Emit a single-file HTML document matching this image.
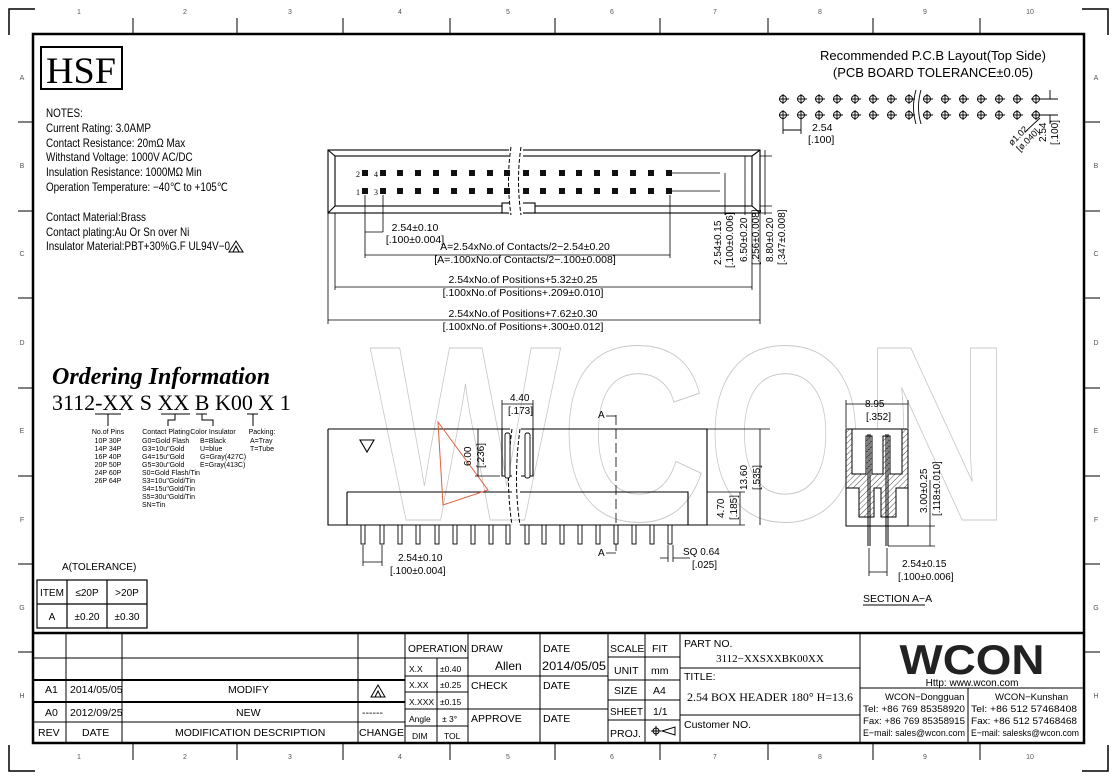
<!DOCTYPE html>
<html><head><meta charset="utf-8"><style>
html,body{margin:0;padding:0;background:#fff}
svg{display:block}
text{font-family:"Liberation Sans",sans-serif}
.s{font-family:"Liberation Serif",serif}
</style></head><body>
<svg width="1117" height="780" viewBox="0 0 1117 780" xmlns="http://www.w3.org/2000/svg">
<text x="370" y="520" font-size="250" font-weight="bold" style="fill:none;stroke:#c8c8c8;stroke-width:1;font-family:'Liberation Sans',sans-serif" textLength="640" lengthAdjust="spacingAndGlyphs">WCON</text>
<g stroke="#000" stroke-width="1.5" fill="none">
<path d="M9 35V9H35"/><path d="M1108 35V9H1082"/><path d="M9 745V771H35"/><path d="M1108 745V771H1082"/>
</g>
<rect x="33" y="34" width="1051" height="709" fill="none" stroke="#000" stroke-width="2.5"/>
<g stroke="#000" stroke-width="1">
<path d="M133 18V34M237 18V34M343 18V34M450 18V34M555 18V34M660 18V34M768 18V34M873 18V34M980 18V34"/>
<path d="M133 743V760M237 743V760M343 743V760M450 743V760M555 743V760M660 743V760M768 743V760M873 743V760M980 743V760"/>
<path d="M18 122H33M18 211H33M18 298H33M18 388H33M18 476H33M18 564H33M18 652H33"/>
<path d="M1084 122H1100M1084 211H1100M1084 298H1100M1084 388H1100M1084 476H1100M1084 564H1100M1084 652H1100"/>
</g>
<g font-size="7" class="s" fill="#555" text-anchor="middle">
<text x="79" y="14">1</text><text x="185" y="14">2</text><text x="290" y="14">3</text><text x="400" y="14">4</text><text x="508" y="14">5</text><text x="612" y="14">6</text><text x="715" y="14">7</text><text x="820" y="14">8</text><text x="925" y="14">9</text><text x="1030" y="14">10</text>
<text x="79" y="759">1</text><text x="185" y="759">2</text><text x="290" y="759">3</text><text x="400" y="759">4</text><text x="508" y="759">5</text><text x="612" y="759">6</text><text x="715" y="759">7</text><text x="820" y="759">8</text><text x="925" y="759">9</text><text x="1030" y="759">10</text>
<text x="22" y="80">A</text><text x="22" y="168">B</text><text x="22" y="256">C</text><text x="22" y="345">D</text><text x="22" y="433">E</text><text x="22" y="522">F</text><text x="22" y="610">G</text><text x="22" y="698">H</text>
<text x="1096" y="80">A</text><text x="1096" y="168">B</text><text x="1096" y="256">C</text><text x="1096" y="345">D</text><text x="1096" y="433">E</text><text x="1096" y="522">F</text><text x="1096" y="610">G</text><text x="1096" y="698">H</text>
</g>
<rect x="41" y="47" width="81" height="42" fill="none" stroke="#000" stroke-width="2"/>
<text x="81" y="83" class="s" font-size="37" text-anchor="middle" textLength="70" lengthAdjust="spacingAndGlyphs">HSF</text>
<g font-size="11.5" transform="translate(46,0) scale(0.86,1) translate(-46,0)">
<text x="46" y="117">NOTES:</text>
<text x="46" y="132">Current Rating: 3.0AMP</text>
<text x="46" y="147">Contact Resistance: 20mΩ Max</text>
<text x="46" y="161">Withstand Voltage: 1000V AC/DC</text>
<text x="46" y="176">Insulation Resistance: 1000MΩ Min</text>
<text x="46" y="191">Operation Temperature: −40℃ to +105℃</text>
<text x="46" y="221">Contact Material:Brass</text>
<text x="46" y="236">Contact plating:Au Or Sn over Ni</text>
<text x="46" y="250">Insulator Material:PBT+30%G.F UL94V−0</text>
</g>
<path d="M229 252L236 241L243 252Z M233 252L236 246L239 252" fill="none" stroke="#000"/>
<text x="933" y="60" font-size="13" text-anchor="middle">Recommended P.C.B Layout(Top Side)</text>
<text x="933" y="77" font-size="13" text-anchor="middle">(PCB BOARD TOLERANCE±0.05)</text>
<g fill="none" stroke="#000" stroke-width="0.9">
<path d="M916 90Q911 107 916 124M921 90Q916 107 921 124"/>
<path d="M1041 99H1058M1041 115H1058M1050 99V90M1050 115V124"/>
<path d="M783 118V134M801 118V134M783 130H801"/>
<path d="M1040 118L1025 132"/>
</g>
<text x="812" y="131" font-size="10.5">2.54</text>
<text x="808" y="143" font-size="10.5">[.100]</text>
<text transform="translate(1012,146) rotate(-45)" font-size="9">ø1.02</text>
<text transform="translate(1020,152) rotate(-45)" font-size="9">[ø.040]</text>
<text transform="translate(1046,142) rotate(-90)" font-size="10">2.54</text>
<text transform="translate(1058,145) rotate(-90)" font-size="10">[.100]</text>
<g fill="none" stroke="#000" stroke-width="1.1">
<rect x="328" y="150" width="432" height="63"/>
<rect x="335" y="156" width="417" height="50"/>
<path d="M335 206L328 213M752 206L760 213M335 156L328 150M752 156L760 150"/>
<rect x="502" y="203" width="33" height="10" fill="#fff"/>
</g>
<rect x="509" y="146" width="14" height="70" fill="#fff"/>
<path d="M511 147Q506 180 511 215M521 147Q516 180 521 215" fill="none" stroke="#000" stroke-dasharray="4,2"/>
<g fill="none" stroke="#000" stroke-width="0.8">
<path d="M672 173H720M672 191H720M760 156H772M760 206H772M760 213H772M725 173V215M745 156V215M765 150V215"/>
<path d="M365 195V258M383 195V232M670 195V258M335 213V290M752 213V290M328 213V324M760 213V324"/>
<path d="M365 232H383M365 255H670M335 287H752M328 320H760"/>
</g>
<g font-size="10.5" text-anchor="middle">
<text x="415" y="231">2.54±0.10</text><text x="415" y="243">[.100±0.004]</text>
<text x="525" y="250">A=2.54xNo.of Contacts/2−2.54±0.20</text>
<text x="525" y="263">[A=.100xNo.of Contacts/2−.100±0.008]</text>
<text x="523" y="283">2.54xNo.of Positions+5.32±0.25</text>
<text x="523" y="296">[.100xNo.of Positions+.209±0.010]</text>
<text x="523" y="317">2.54xNo.of Positions+7.62±0.30</text>
<text x="523" y="330">[.100xNo.of Positions+.300±0.012]</text>
</g>
<g font-size="10">
<text transform="translate(721,265) rotate(-90)">2.54±0.15</text>
<text transform="translate(733,268) rotate(-90)">[.100±0.006]</text>
<text transform="translate(747,262) rotate(-90)">6.50±0.20</text>
<text transform="translate(759,265) rotate(-90)">[.256±0.008]</text>
<text transform="translate(773,262) rotate(-90)">8.80±0.20</text>
<text transform="translate(785,265) rotate(-90)">[.347±0.008]</text>
</g>
<text x="356" y="177" font-size="8" class="s">2</text><text x="374" y="177" font-size="8" class="s">4</text>
<text x="356" y="195" font-size="8" class="s">1</text><text x="374" y="195" font-size="8" class="s">3</text>
<text x="52" y="384" class="s" font-size="24" font-weight="bold" font-style="italic">Ordering Information</text>
<text x="52" y="410" class="s" font-size="22">3112-XX S XX B K00 X 1</text>
<g stroke="#000" fill="none" stroke-width="1">
<path d="M95 414H121M161 414H190M196 414H207M247 414H258"/>
<path d="M108 414V426M175 414V420H168V426M202 414V420H213V426M253 414V426"/>
</g>
<g class="s" font-size="7" text-anchor="middle">
<text x="108" y="434">No.of Pins</text>
<text x="108" y="443">10P 30P</text><text x="108" y="451">14P 34P</text><text x="108" y="459">16P 40P</text><text x="108" y="467">20P 50P</text><text x="108" y="475">24P 60P</text><text x="108" y="483">26P 64P</text>
<text x="166" y="434">Contact Plating</text>
<text x="213" y="434">Color Insulator</text>
<text x="262" y="434">Packing:</text>
</g>
<g class="s" font-size="7">
<text x="142" y="443">G0=Gold Flash</text><text x="142" y="451">G3=10u"Gold</text><text x="142" y="459">G4=15u"Gold</text><text x="142" y="467">G5=30u"Gold</text><text x="142" y="475">S0=Gold Flash/Tin</text><text x="142" y="483">S3=10u"Gold/Tin</text><text x="142" y="491">S4=15u"Gold/Tin</text><text x="142" y="499">S5=30u"Gold/Tin</text><text x="142" y="507">SN=Tin</text>
<text x="200" y="443">B=Black</text><text x="200" y="451">U=blue</text><text x="200" y="459">G=Gray(427C)</text><text x="200" y="467">E=Gray(413C)</text>
<text x="250" y="443">A=Tray</text><text x="250" y="451">T=Tube</text>
</g>
<g fill="none" stroke="#000" stroke-width="1.1">
<path d="M328 429H510M521 429H707V525H688M347 525H328V429"/>
<path d="M347 492H512M520 492H688V525M347 492V525"/>
<path d="M347 525H510M520 525H688"/>
<path d="M502 429V476H512M533 429V476H521"/>
<path d="M360 440H374L367 452Z"/>
</g>
<path d="M512 429Q505 480 512 525M520 429Q513 480 520 525" fill="none" stroke="#000" stroke-dasharray="4,2"/>
<path d="M438 422L488 490L443 505Z" fill="none" stroke="#e06040" stroke-width="1"/>
<g fill="none" stroke="#000" stroke-width="0.8">
<path d="M616 415V555" stroke-dasharray="10,4"/>
<path d="M606 416H616M606 553H616"/>
<path d="M502 400V429M533 400V429M502 404H533M475 429H500M475 476H500M478 429V476M707 492H745M707 525H745M688 429H770M740 492V525M760 429V525M363 545V566M382 545V566M363 562H382M668 545V562M673 545V562M660 558H668M673 558H690"/>
</g>
<g font-size="10">
<text x="510" y="401">4.40</text><text x="508" y="414">[.173]</text>
<text x="598" y="418">A</text><text x="598" y="556">A</text>
<text transform="translate(471,466) rotate(-90)">6.00</text>
<text transform="translate(484,468) rotate(-90)">[.236]</text>
<text transform="translate(747,490) rotate(-90)">13.60</text>
<text transform="translate(760,490) rotate(-90)">[.535]</text>
<text transform="translate(724,518) rotate(-90)">4.70</text>
<text transform="translate(737,520) rotate(-90)">[.185]</text>
<text x="398" y="561">2.54±0.10</text><text x="390" y="574">[.100±0.004]</text>
<text x="683" y="555">SQ 0.64</text><text x="692" y="568">[.025]</text>
</g>
<defs><pattern id="hat" width="4" height="4" patternUnits="userSpaceOnUse" patternTransform="rotate(45)"><path d="M0 0V4" stroke="#000" stroke-width="0.7"/></pattern></defs>
<g stroke="#000" stroke-width="1">
<rect x="846" y="429" width="62" height="97" fill="#fff"/>
<path d="M846 429H852V474H866V436H872V474H883V436H890V474H902V429H908V488H896V517H881V488H874V517H859V488H846Z" fill="url(#hat)"/>
<path d="M868 434V546M870 434V546M886 434V546M888 434V546" fill="none"/>
<path d="M846 400V428M908 400V428M846 404H908M908 526H935M888 546H935M930 480V546M869 548V576M887 548V576M869 572H887" fill="none" stroke-width="0.8"/>
</g>
<g font-size="10">
<text x="865" y="407">8.95</text><text x="866" y="420">[.352]</text>
<text transform="translate(927,513) rotate(-90)">3.00±0.25</text>
<text transform="translate(940,516) rotate(-90)">[.118±0.010]</text>
<text x="902" y="567">2.54±0.15</text><text x="898" y="580">[.100±0.006]</text>
<text x="863" y="602" font-size="10.5">SECTION A−A</text>
</g>
<path d="M863 605H925" stroke="#000"/>
<text x="62" y="570" font-size="10">A(TOLERANCE)</text>
<g fill="none" stroke="#000" stroke-width="1.2">
<rect x="37" y="580" width="110" height="48"/>
<path d="M37 604H147M67 580V628M107 580V628"/>
</g>
<g font-size="10" text-anchor="middle">
<text x="52" y="596">ITEM</text><text x="87" y="596">≤20P</text><text x="127" y="596">&gt;20P</text>
<text x="52" y="620">A</text><text x="87" y="620">±0.20</text><text x="127" y="620">±0.30</text>
</g>
<g fill="none" stroke="#000" stroke-width="1">
<path d="M33 633H1084" stroke-width="2.5"/>
<path d="M33 658H405M33 722H405" />
<path d="M33 680H405M33 702H405" stroke-width="2"/>
<path d="M66 633V743M122 633V743M358 633V743M405 633V743M437 658V743M468 633V743M540 633V743M608 633V743M645 633V743M680 633V743M860 633V743M968 688V743"/>
<path d="M405 658H468M405 676H468M405 692H468M405 709H468M405 726H468"/>
<path d="M468 676H608M468 709H608"/>
<path d="M608 657H680M608 680H680M608 700H680M608 720H680"/>
<path d="M680 668H860M680 715H860M860 688H1084"/>
</g>
<g font-size="10.5">
<text x="45" y="693">A1</text><text x="45" y="716">A0</text><text x="38" y="736">REV</text>
<text x="70" y="693">2014/05/05</text><text x="70" y="716">2012/09/25</text><text x="82" y="736">DATE</text>
<text x="228" y="693">MODIFY</text><text x="236" y="716">NEW</text>
<text x="175" y="736">MODIFICATION DESCRIPTION</text>
<text x="362" y="716">------</text><text x="359" y="736" textLength="45" lengthAdjust="spacingAndGlyphs">CHANGE</text>
<text x="408" y="652" textLength="59" lengthAdjust="spacingAndGlyphs">OPERATION</text>
<text x="471" y="652">DRAW</text><text x="495" y="670" font-size="12">Allen</text>
<text x="471" y="689">CHECK</text><text x="471" y="722">APPROVE</text>
<text x="543" y="652">DATE</text><text x="542" y="670" font-size="12" textLength="64" lengthAdjust="spacingAndGlyphs">2014/05/05</text>
<text x="543" y="689">DATE</text><text x="543" y="722">DATE</text>
<text x="610" y="652">SCALE</text><text x="652" y="652">FIT</text>
<text x="614" y="674">UNIT</text><text x="651" y="674">mm</text>
<text x="614" y="694">SIZE</text><text x="653" y="694">A4</text>
<text x="610" y="715" textLength="33" lengthAdjust="spacingAndGlyphs">SHEET</text><text x="653" y="715">1/1</text>
<text x="610" y="737">PROJ.</text>
<text x="684" y="647">PART NO.</text>
<text x="684" y="680">TITLE:</text>
<text x="684" y="728">Customer NO.</text>
</g>
<g font-size="8.5">
<text x="409" y="672">X.X</text><text x="440" y="672">±0.40</text>
<text x="409" y="688">X.XX</text><text x="440" y="688">±0.25</text>
<text x="409" y="705">X.XXX</text><text x="440" y="705">±0.15</text>
<text x="409" y="722">Angle</text><text x="442" y="722">± 3°</text>
<text x="412" y="739">DIM</text><text x="444" y="739">TOL</text>
</g>
<path d="M371 697L378 685L385 697ZM375 697L378 691L381 697" fill="none" stroke="#000"/>
<g stroke="#000" fill="none"><circle cx="656" cy="731" r="3"/><path d="M651 731H661M656 726V736M662 731L675 727V735Z"/></g>
<text x="770" y="662" class="s" font-size="11" text-anchor="middle">3112−XXSXXBK00XX</text>
<text x="770" y="701" class="s" font-size="11.5" text-anchor="middle" textLength="166" lengthAdjust="spacingAndGlyphs">2.54 BOX HEADER 180° H=13.6</text>
<text x="972" y="674" font-size="42" font-weight="bold" text-anchor="middle" fill="#222" textLength="145" lengthAdjust="spacingAndGlyphs">WCON</text>
<text x="972" y="686" font-size="10" text-anchor="middle">Http: www.wcon.com</text>
<g font-size="9.5">
<text x="885" y="700">WCON−Dongguan</text>
<text x="863" y="712" textLength="102" lengthAdjust="spacingAndGlyphs">Tel: +86 769 85358920</text>
<text x="863" y="724" textLength="102" lengthAdjust="spacingAndGlyphs">Fax: +86 769 85358915</text>
<text x="863" y="736" textLength="102" lengthAdjust="spacingAndGlyphs">E−mail: sales@wcon.com</text>
<text x="995" y="700">WCON−Kunshan</text>
<text x="971" y="712" textLength="106" lengthAdjust="spacingAndGlyphs">Tel: +86 512 57468408</text>
<text x="971" y="724" textLength="106" lengthAdjust="spacingAndGlyphs">Fax: +86 512 57468468</text>
<text x="971" y="736" textLength="108" lengthAdjust="spacingAndGlyphs">E−mail: salesks@wcon.com</text>
</g>
<g fill="none" stroke="#000" stroke-width="0.9">
<circle cx="783" cy="99" r="3.5"/><circle cx="801" cy="99" r="3.5"/><circle cx="819" cy="99" r="3.5"/><circle cx="837" cy="99" r="3.5"/><circle cx="855" cy="99" r="3.5"/><circle cx="873" cy="99" r="3.5"/><circle cx="891" cy="99" r="3.5"/><circle cx="909" cy="99" r="3.5"/><circle cx="927" cy="99" r="3.5"/><circle cx="945" cy="99" r="3.5"/><circle cx="963" cy="99" r="3.5"/><circle cx="981" cy="99" r="3.5"/><circle cx="999" cy="99" r="3.5"/><circle cx="1017" cy="99" r="3.5"/><circle cx="1036" cy="99" r="3.5"/>
<circle cx="783" cy="115" r="3.5"/><circle cx="801" cy="115" r="3.5"/><circle cx="819" cy="115" r="3.5"/><circle cx="837" cy="115" r="3.5"/><circle cx="855" cy="115" r="3.5"/><circle cx="873" cy="115" r="3.5"/><circle cx="891" cy="115" r="3.5"/><circle cx="909" cy="115" r="3.5"/><circle cx="927" cy="115" r="3.5"/><circle cx="945" cy="115" r="3.5"/><circle cx="963" cy="115" r="3.5"/><circle cx="981" cy="115" r="3.5"/><circle cx="999" cy="115" r="3.5"/><circle cx="1017" cy="115" r="3.5"/><circle cx="1036" cy="115" r="3.5"/>
<path d="M783 94V104M801 94V104M819 94V104M837 94V104M855 94V104M873 94V104M891 94V104M909 94V104M927 94V104M945 94V104M963 94V104M981 94V104M999 94V104M1017 94V104M1036 94V104M783 110V120M801 110V120M819 110V120M837 110V120M855 110V120M873 110V120M891 110V120M909 110V120M927 110V120M945 110V120M963 110V120M981 110V120M999 110V120M1017 110V120M1036 110V120"/>
<path d="M778 99H1041M778 115H1041" stroke-dasharray="10,8" stroke-dashoffset="-1"/>
</g>
<g fill="#111">
<rect x="362" y="170" width="6" height="6"/><rect x="380" y="170" width="6" height="6"/><rect x="397" y="170" width="6" height="6"/><rect x="415" y="170" width="6" height="6"/><rect x="433" y="170" width="6" height="6"/><rect x="451" y="170" width="6" height="6"/><rect x="469" y="170" width="6" height="6"/><rect x="487" y="170" width="6" height="6"/><rect x="504" y="170" width="6" height="6"/><rect x="523" y="170" width="6" height="6"/><rect x="540" y="170" width="6" height="6"/><rect x="559" y="170" width="6" height="6"/><rect x="576" y="170" width="6" height="6"/><rect x="594" y="170" width="6" height="6"/><rect x="612" y="170" width="6" height="6"/><rect x="630" y="170" width="6" height="6"/><rect x="648" y="170" width="6" height="6"/><rect x="666" y="170" width="6" height="6"/>
<rect x="362" y="188" width="6" height="6"/><rect x="380" y="188" width="6" height="6"/><rect x="397" y="188" width="6" height="6"/><rect x="415" y="188" width="6" height="6"/><rect x="433" y="188" width="6" height="6"/><rect x="451" y="188" width="6" height="6"/><rect x="469" y="188" width="6" height="6"/><rect x="487" y="188" width="6" height="6"/><rect x="504" y="188" width="6" height="6"/><rect x="523" y="188" width="6" height="6"/><rect x="540" y="188" width="6" height="6"/><rect x="559" y="188" width="6" height="6"/><rect x="576" y="188" width="6" height="6"/><rect x="594" y="188" width="6" height="6"/><rect x="612" y="188" width="6" height="6"/><rect x="630" y="188" width="6" height="6"/><rect x="648" y="188" width="6" height="6"/><rect x="666" y="188" width="6" height="6"/>
</g>
<g fill="#fff" stroke="#000" stroke-width="0.9">
<rect x="361" y="525" width="4" height="19"/><rect x="380" y="525" width="4" height="19"/><rect x="398" y="525" width="4" height="19"/><rect x="416" y="525" width="4" height="19"/><rect x="435" y="525" width="4" height="19"/><rect x="453" y="525" width="4" height="19"/><rect x="471" y="525" width="4" height="19"/><rect x="489" y="525" width="4" height="19"/><rect x="506" y="525" width="4" height="19"/><rect x="525" y="525" width="4" height="19"/><rect x="542" y="525" width="4" height="19"/><rect x="560" y="525" width="4" height="19"/><rect x="578" y="525" width="4" height="19"/><rect x="596" y="525" width="4" height="19"/><rect x="614" y="525" width="4" height="19"/><rect x="632" y="525" width="4" height="19"/><rect x="650" y="525" width="4" height="19"/><rect x="668" y="525" width="4" height="19"/>
<rect x="505" y="433" width="5" height="45" rx="2"/><rect x="525" y="433" width="5" height="45" rx="2"/>
</g>
</svg>
</body></html>
